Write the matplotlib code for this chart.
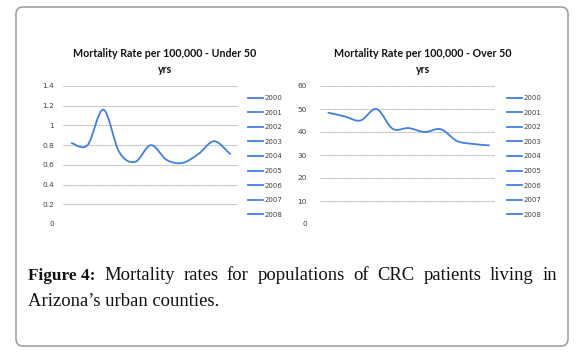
import numpy as np
import matplotlib
matplotlib.use('Agg')
import matplotlib.pyplot as plt
from matplotlib.path import Path
from matplotlib.patches import PathPatch, FancyBboxPatch
from matplotlib.lines import Line2D
from matplotlib.transforms import IdentityTransform

# values (11 points per chart, evenly spaced)
under50 = [0.82, 0.80, 1.16, 0.73, 0.63, 0.80, 0.65, 0.62, 0.71, 0.84, 0.71]
over50 = [48.4, 46.8, 45.0, 50.0, 41.4, 41.7, 40.0, 41.2, 36.1, 34.8, 34.2]
years = ['2000', '2001', '2002', '2003', '2004', '2005', '2006', '2007', '2008']
title_under = ['Mortality Rate per 100,000 - Under 50', 'yrs']
title_over = ['Mortality Rate per 100,000 - Over 50', 'yrs']
yticks_under = [0, 0.2, 0.4, 0.6, 0.8, 1, 1.2, 1.4]
yticks_over = [0, 10, 20, 30, 40, 50, 60]
caption_bold = 'Figure 4:'
caption_line1 = 'Mortality rates for populations of CRC patients living in'
caption_line2 = 'Arizona\u2019s urban counties.'

W, H = 582, 353
BLUE = '#3f80e8'
GRID = '#b0b0b0'


def fx(px):
    return px / W


def fy(py):
    return 1 - py / H


def smooth_path(xs, ys):
    # Excel-style smoothed line: catmull-rom segments as cubic beziers
    pts = np.column_stack([xs, ys]).astype(float)
    ext = np.vstack([pts[0], pts, pts[-1]])
    verts = [pts[0]]
    codes = [Path.MOVETO]
    for i in range(len(pts) - 1):
        p0, p1, p2, p3 = ext[i], ext[i + 1], ext[i + 2], ext[i + 3]
        verts += [p1 + (p2 - p0) / 6, p2 - (p3 - p1) / 6, p2]
        codes += [Path.CURVE4] * 3
    return Path(verts, codes)


fig = plt.figure(figsize=(W / 100, H / 100), dpi=100, facecolor='white')

# rounded outer frame
frame = FancyBboxPatch((16, H - 346), 552, 339, boxstyle='round,pad=0,rounding_size=7',
                       transform=IdentityTransform(), facecolor='none',
                       edgecolor='#9a9a9a', linewidth=1.1)
fig.add_artist(frame)


def draw_chart(left_px, xlim, vals, yticks, title, title_x, label_pad, legend_x):
    ax = fig.add_axes([fx(left_px), fy(224), fx(175), 138 / H])
    x = np.arange(len(vals))
    ax.add_patch(PathPatch(smooth_path(x, vals), facecolor='none', edgecolor=BLUE,
                           linewidth=1.3, capstyle='round', joinstyle='round'))
    ax.set_xlim(*xlim)
    ax.set_ylim(yticks[0], yticks[-1])
    ax.set_yticks(yticks)
    ax.set_yticklabels([('%g' % t) for t in yticks])
    ax.set_xticks([])
    ax.grid(axis='y', color=GRID, linewidth=0.8, linestyle=(0, (1, 0.6)))
    ax.set_axisbelow(True)
    for s in ax.spines.values():
        s.set_visible(False)
    ax.tick_params(axis='y', length=0, pad=label_pad, labelsize=5.3, labelcolor='#404040')
    for i, line in enumerate(title):
        fig.text(fx(title_x), fy(57 + 16 * i), line, ha='center', va='baseline',
                 fontsize=7.7, fontweight='bold', family='Lato', color='#111111')
    handles = [Line2D([], [], color=BLUE, linewidth=1.3) for _ in years]
    ax.legend(handles, years, loc='upper left', bbox_to_anchor=(fx(legend_x), fy(95)),
              bbox_transform=fig.transFigure, frameon=False, fontsize=5.0,
              handlelength=2.2, handletextpad=0.15, labelspacing=1.24,
              borderpad=0, borderaxespad=0, labelcolor='#404040')
    return ax


draw_chart(63, (-0.55, 10.5), under50, yticks_under, title_under, 165, 6.5, 248)
draw_chart(320, (-0.52, 10.37), over50, yticks_over, title_over, 423, 9.5, 507)

# caption, justified on the first line
fig.canvas.draw()
r = fig.canvas.get_renderer()
cap_left, cap_right = 28, 557
words = [(caption_bold, 'bold', 12.4)] + [(w, 'normal', 13.4) for w in caption_line1.split()]
texts = []
for w, wt, sz in words:
    t = fig.text(0, fy(280.5), w, fontsize=sz, family='Liberation Serif',
                 fontweight=wt, va='baseline', ha='left', color='#111111')
    texts.append(t)
widths = [t.get_window_extent(r).width for t in texts]
gap = (cap_right - cap_left - sum(widths)) / (len(texts) - 1)
xpos = cap_left
for t, w in zip(texts, widths):
    t.set_x(fx(xpos))
    xpos += w + gap
fig.text(fx(cap_left), fy(305.5), caption_line2, fontsize=13.4, family='Liberation Serif',
         va='baseline', ha='left', color='#111111')

fig.savefig('out.png', dpi=100, facecolor='white')
